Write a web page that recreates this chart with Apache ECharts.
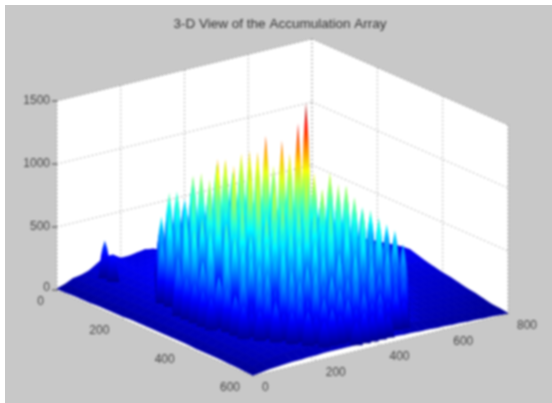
<!DOCTYPE html>
<html><head><meta charset="utf-8">
<script src="https://cdn.jsdelivr.net/npm/echarts@6/dist/echarts.min.js"></script>
<style>
html,body{margin:0;padding:0;background:#fff;width:552px;height:403px;overflow:hidden}
#bg{position:absolute;left:5px;top:5px;right:0;bottom:0;background:#c8c8c8}
#c{position:absolute;left:0;top:0;width:552px;height:403px;filter:blur(0.85px)}
</style></head><body><div id="bg"></div><div id="c"></div>
<script>
const titleText = "3-D View of the Accumulation Array";
const xTicks = [0,200,400,600,800];
const yTicks = [0,200,400,600];
const zTicks = [0,500,1000,1500];
const gridStep = 25;
const colorMax = 1470;
const floorLevel = 170;
const heights = [
[10,30,60,70,90,130,300,170,130,130,140,150,140,110,90,80,75,75,70,70,65,65,60,60,55,55,50,50,50,50,50,50,50],
[10,35,60,80,95,120,220,160,140,140,150,150,160,170,380,520,610,430,500,90,80,70,65,60,55,55,50,50,50,50,50,55,55],
[15,35,60,85,100,125,170,150,145,150,160,400,590,640,470,720,430,510,780,520,690,400,80,70,65,60,55,55,55,55,55,60,60],
[15,40,65,85,105,130,155,150,155,170,450,690,370,560,780,640,500,820,440,700,760,580,410,75,70,65,60,60,60,60,60,60,65],
[15,40,65,90,110,130,150,160,170,560,470,700,620,390,830,720,560,880,640,470,810,690,520,380,70,65,65,60,60,65,65,70,70],
[20,40,70,90,110,130,150,170,480,630,650,330,740,790,510,920,620,700,950,560,480,830,650,610,370,70,65,65,65,70,70,75,80],
[20,45,70,95,115,135,160,440,660,520,610,760,400,850,610,980,700,540,1000,860,590,780,720,480,640,340,70,70,70,75,80,85,90],
[20,45,70,95,115,140,470,630,590,350,700,520,820,1040,660,560,930,770,1020,620,880,700,520,800,610,430,520,80,80,85,90,95,105],
[20,45,75,95,120,140,520,400,650,600,420,780,690,560,1000,810,620,950,1175,700,560,990,830,640,720,560,470,85,85,90,100,110,120],
[25,45,75,100,120,145,420,610,370,690,560,780,500,900,720,1010,640,860,730,1150,930,680,890,760,520,700,580,90,90,100,110,125,135],
[25,50,75,100,120,390,570,660,320,620,720,450,830,610,880,960,560,790,1000,740,1300,1450,820,700,850,540,620,380,100,110,125,140,150],
[25,50,75,100,125,340,520,430,640,290,690,560,790,430,860,700,940,620,880,810,660,920,780,860,590,760,480,350,105,115,130,150,165],
[25,50,80,100,125,320,480,590,280,610,500,730,470,800,650,870,590,840,720,930,640,780,690,830,530,690,600,340,110,120,140,160,170],
[25,50,80,105,120,290,450,360,560,660,380,640,560,750,480,820,670,590,790,700,860,600,740,840,660,470,580,330,140,150,155,160,150],
[25,50,80,105,120,260,410,520,250,600,470,690,420,720,610,540,780,660,730,590,760,680,520,780,560,650,450,300,130,135,140,140,130],
[25,50,80,105,120,130,360,260,480,550,340,640,500,390,680,600,710,480,650,730,560,670,610,720,490,620,550,125,120,120,120,115,115],
[25,50,80,100,115,125,320,440,220,520,410,290,600,480,640,390,620,560,680,450,630,540,690,440,640,470,530,120,110,110,105,105,100],
[20,50,75,95,110,120,270,200,400,480,260,540,330,570,470,610,380,590,500,620,440,600,520,630,400,520,450,110,100,100,95,90,90],
[20,45,70,90,105,115,125,240,360,280,430,500,300,490,400,560,340,540,470,520,600,410,570,430,540,420,105,95,95,90,85,80,75],
[20,45,70,85,100,110,115,125,300,220,390,450,280,500,370,430,520,340,530,410,490,360,520,390,460,100,90,85,85,80,75,70,60],
[20,40,65,80,95,105,110,115,120,260,340,240,410,300,460,350,420,480,330,470,400,440,350,390,95,85,80,75,70,65,60,55,50],
[15,40,60,75,90,100,105,110,115,115,270,220,350,260,390,300,410,330,400,280,420,310,340,90,80,75,70,65,60,50,45,40,35],
[15,35,55,70,85,90,95,100,105,105,110,210,290,230,340,250,350,270,330,240,300,220,85,75,65,60,55,50,45,40,30,25,20],
[10,30,45,60,70,75,80,85,85,90,90,90,90,90,190,250,210,260,180,85,80,75,70,60,55,50,45,40,35,30,25,20,15],
[5,15,25,30,35,40,40,45,45,50,50,50,50,50,50,50,45,45,45,40,40,35,35,30,30,25,25,20,20,15,15,10,5]
];

const xMax = xTicks[xTicks.length-1], yMax = yTicks[yTicks.length-1], zMax = zTicks[zTicks.length-1];
const origin = [57,290];
const xDir = [255,-62], yDir = [196,86], zDir = [0,-189];
function project(x,y,z){
  return [origin[0]+xDir[0]*x/xMax+yDir[0]*y/yMax+zDir[0]*z/zMax,
          origin[1]+xDir[1]*x/xMax+yDir[1]*y/yMax+zDir[1]*z/zMax];
}
const jetStops = [[0,[0,0,143]],[1/8,[0,0,255]],[3/8,[0,255,255]],[5/8,[255,255,0]],[7/8,[255,0,0]],[1,[128,0,0]]];
function jet(z){
  const t = Math.max(0,Math.min(1,z/colorMax));
  for(let k=1;k<jetStops.length;k++){
    if(t<=jetStops[k][0]){
      const a=jetStops[k-1],b=jetStops[k],f=(t-a[0])/(b[0]-a[0]);
      return 'rgb('+a[1].map((v,i)=>Math.round(v+(b[1][i]-v)*f)).join(',')+')';
    }
  }
  return 'rgb(128,0,0)';
}
function ramp(zTop,zBot,y0,y1){
  const stops=[];
  for(let k=0;k<=8;k++){ stops.push({offset:k/8,color:jet(zTop+(zBot-zTop)*k/8)}); }
  return new echarts.graphic.LinearGradient(0,y0,0,Math.max(y1,y0+0.01),stops,true);
}

const cells = [];
for(let j=0;j<heights.length-1;j++){
  for(let i=heights[0].length-2;i>=0;i--){ cells.push([i,j]); }
}
function renderCell(params,api){
  const i=api.value(0), j=api.value(1);
  let sum=0;
  const pts=[[i,j],[i+1,j],[i+1,j+1],[i,j+1]].map(([a,b])=>{
    const z=Math.min(heights[b][a],floorLevel);
    sum+=z;
    return api.coord(project(a*gridStep,b*gridStep,z));
  });
  const c=jet(sum/4);
  return {type:'polygon',shape:{points:pts},style:{fill:c,stroke:c,lineWidth:0.8},silent:true};
}

const peaks = [];
heights.forEach((row,j)=>row.forEach((z,i)=>{ if(z>floorLevel) peaks.push([i,j,z]); }));
peaks.sort((a,b)=>project(a[0]*gridStep,a[1]*gridStep,0)[1]-project(b[0]*gridStep,b[1]*gridStep,0)[1]);
const peakProfile = [[0,0],[0.08,0.9],[0.2,2.4],[0.42,4],[1,6.5]];
function renderPeak(params,api){
  const x=api.value(0)*gridStep,y=api.value(1)*gridStep,z=api.value(2);
  const t=api.coord(project(x,y,z)), b=api.coord(project(x,y,0));
  const h=b[1]-t[1];
  const right=peakProfile.map(([f,w])=>[t[0]+w,t[1]+f*h]);
  const left=peakProfile.slice(1).reverse().map(([f,w])=>[t[0]-w,t[1]+f*h]);
  return {type:'polygon',shape:{points:right.concat(left)},style:{fill:ramp(z,0,t[1],b[1])},silent:true};
}

const wallFaces = [
  [[0,0,0],[xMax,0,0],[xMax,0,zMax],[0,0,zMax]],
  [[xMax,0,0],[xMax,yMax,0],[xMax,yMax,zMax],[xMax,0,zMax]],
  [[0,0,0],[xMax,0,0],[xMax,yMax,0],[0,yMax,0]]
];
const gridLines = [];
xTicks.forEach(x=>{gridLines.push([[x,0,0],[x,0,zMax]]);gridLines.push([[x,0,0],[x,yMax,0]]);});
yTicks.forEach(y=>{gridLines.push([[xMax,y,0],[xMax,y,zMax]]);gridLines.push([[0,y,0],[xMax,y,0]]);});
zTicks.forEach(z=>{gridLines.push([[0,0,z],[xMax,0,z]]);gridLines.push([[xMax,0,z],[xMax,yMax,z]]);});

const labels = [];
zTicks.forEach(z=>labels.push({t:String(z),p:[0,0,z],dx:-7,dy:z===0?-2:0,a:'right'}));
yTicks.forEach(y=>labels.push({t:String(y),p:[0,y,0],dx:-13,dy:12,a:'right'}));
xTicks.forEach(x=>labels.push({t:String(x),p:[x,yMax,0],dx:9,dy:12,a:'left'}));

const option = {
  animation:false,
  backgroundColor:'transparent',
  title:{text:titleText,left:275,top:12,textAlign:'center',
    textStyle:{fontFamily:'Liberation Sans',fontSize:13.5,fontWeight:'normal',color:'#333'}},
  grid:{left:0,right:0,top:0,bottom:0},
  xAxis:{type:'value',min:0,max:552,show:false},
  yAxis:{type:'value',min:0,max:403,inverse:true,show:false},
  series:[
    {type:'custom',coordinateSystem:'cartesian2d',clip:false,silent:true,z:1,
      data:wallFaces.map((f,i)=>[i]),
      renderItem:(p,api)=>({type:'polygon',
        shape:{points:wallFaces[api.value(0)].map(c=>api.coord(project(c[0],c[1],c[2])))},
        style:{fill:'#fff'}})},
    {type:'custom',coordinateSystem:'cartesian2d',clip:false,silent:true,z:2,
      data:gridLines.map((l,i)=>[i]),
      renderItem:(p,api)=>{const l=gridLines[api.value(0)];const a=api.coord(project(...l[0])),b=api.coord(project(...l[1]));
        return {type:'line',shape:{x1:a[0],y1:a[1],x2:b[0],y2:b[1]},style:{stroke:'#777',lineWidth:1,lineDash:[1,3]}};}},
    {type:'custom',coordinateSystem:'cartesian2d',clip:false,silent:true,z:3,
      data:zTicks.map(z=>[z]),
      renderItem:(p,api)=>{const a=api.coord(project(0,0,api.value(0)));
        return {type:'line',shape:{x1:a[0]-5,y1:a[1],x2:a[0],y2:a[1]},style:{stroke:'#444',lineWidth:1}};}},
    {type:'custom',coordinateSystem:'cartesian2d',clip:false,silent:true,z:4,
      data:cells,renderItem:renderCell},
    {type:'custom',coordinateSystem:'cartesian2d',clip:false,silent:true,z:5,
      data:peaks,renderItem:renderPeak},
    {type:'custom',coordinateSystem:'cartesian2d',clip:false,silent:true,z:6,
      data:labels.map((l,i)=>[i]),
      renderItem:(p,api)=>{const l=labels[api.value(0)];const a=api.coord(project(...l.p));
        return {type:'text',style:{x:a[0]+l.dx,y:a[1]+l.dy,text:l.t,align:l.a,verticalAlign:'middle',
          font:'12px "Liberation Sans"',fill:'#444'}};}}
  ]
};
echarts.init(document.getElementById('c')).setOption(option);
</script></body></html>
